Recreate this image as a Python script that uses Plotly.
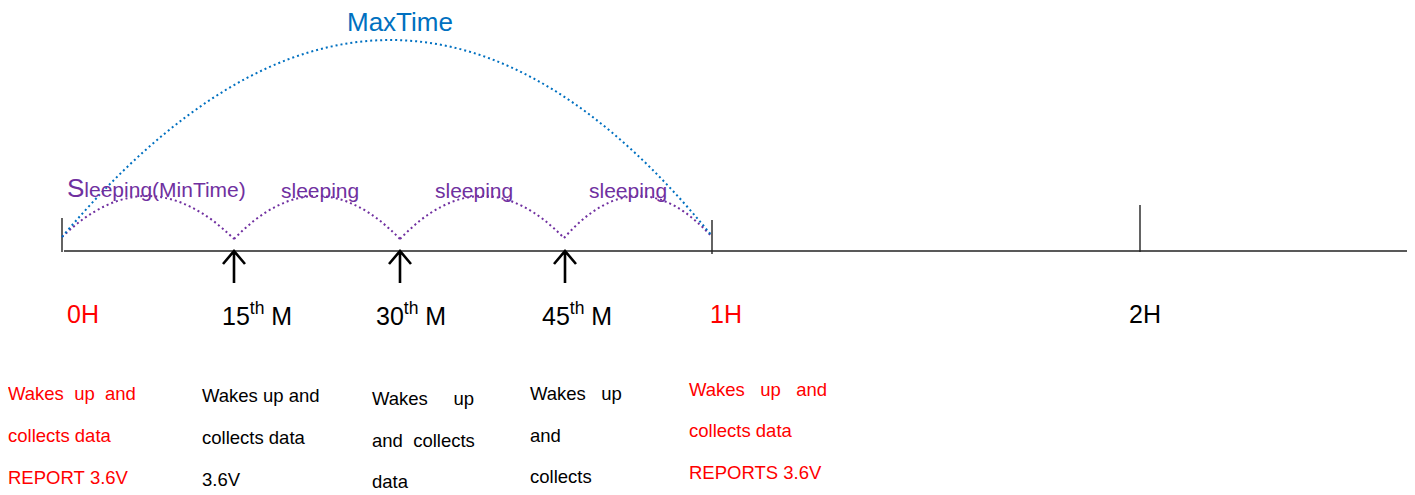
import plotly.graph_objects as go

W, H = 1415, 495
PAGE_OFFSET = 8  # browser default body margin

# ---------------- content ----------------
mark_labels = ["0H", "15<sup>th</sup> M", "30<sup>th</sup> M", "45<sup>th</sup> M", "1H", "2H"]
mark_is_report = [True, False, False, False, True, False]
sleep_labels = ["<span style='font-size:26px'>S</span>leeping(MinTime)", "sleeping", "sleeping", "sleeping"]
max_label = "MaxTime"
desc_lines = [
    ["Wakes  up  and", "collects data", "REPORT 3.6V"],
    ["Wakes up and", "collects data", "3.6V"],
    ["Wakes     up", "and  collects", "data"],
    ["Wakes   up", "and", "collects"],
    ["Wakes   up   and", "collects data", "REPORTS 3.6V"],
]
desc_is_report = [True, False, False, False, True]

# ---------------- layout positions (diagram pixel space) ----------------
line_y = 251
line_x0, line_x1 = 64, 1410
tick_x = [62, 712, 1140]
tick_top = [218, 220, 205]
tick_bot = [252, 254, 252]
arrow_x = [234, 400, 565]
arrow_bottom, arrow_tip = 283, 251
label_x = [82.5, 257, 411, 577, 726, 1145]
label_y = 314
arc_x = [62, 234, 400, 564, 712]
arc_y = [237, 239, 239, 238, 237]
arc_peak = 196
max_peak_x, max_peak_y = 390, 40
sleep_pos = [(65, 188, "left"), (320, 190, "center"), (474, 190, "center"), (628, 190, "center")]
desc_x = [8, 202, 372, 530, 689]
desc_y = [[393, 435, 477], [395.5, 437, 479.5], [398, 440, 481], [393.5, 435, 476.5], [389, 430, 472]]
TEXT_PAD_SHIFT = -2  # annotation box padding compensation

RED = "#FF0000"
PURPLE = "#7030A0"
BLUE = "#0070C0"
FONT = "Liberation Sans, Arial, sans-serif"

shapes = []
# main timeline
shapes.append(dict(type="line", x0=line_x0, x1=line_x1, y0=line_y, y1=line_y,
                   line=dict(color="#222222", width=1.6)))
for x, t, b in zip(tick_x, tick_top, tick_bot):
    shapes.append(dict(type="line", x0=x, x1=x, y0=t, y1=b, line=dict(color="#222222", width=1.4)))
# wake-up arrows
for x in arrow_x:
    path = (f"M {x} {arrow_bottom} L {x} {arrow_tip} "
            f"M {x-11} {arrow_tip+13} L {x} {arrow_tip} L {x+11} {arrow_tip+13}")
    shapes.append(dict(type="path", path=path, line=dict(color="#000000", width=2.6)))
# sleeping arcs (purple, dotted)
for i in range(len(arc_x) - 1):
    x0, x1 = arc_x[i], arc_x[i + 1]
    y0, y1 = arc_y[i], arc_y[i + 1]
    cx = (x0 + x1) / 2
    cy = 2 * arc_peak - (y0 + y1) / 2
    shapes.append(dict(type="path", path=f"M {x0} {y0} Q {cx} {cy} {x1} {y1}",
                       line=dict(color=PURPLE, width=2, dash="2px,3px")))
# MaxTime arc (blue, dotted)
x0, x1 = arc_x[0], arc_x[-1]
y0, y1 = arc_y[0], arc_y[-1] - 1
cx = 2 * max_peak_x - (x0 + x1) / 2
cy = 2 * max_peak_y - (y0 + y1) / 2
shapes.append(dict(type="path", path=f"M {x0} {y0} Q {cx} {cy} {x1} {y1}",
                   line=dict(color=BLUE, width=2, dash="2px,3px")))

annotations = []
annotations.append(dict(x=400, y=21.5, text=max_label, showarrow=False, xanchor="center", yanchor="middle",
                        font=dict(family=FONT, size=26, color=BLUE)))
for (x, y, anc), txt in zip(sleep_pos, sleep_labels):
    annotations.append(dict(x=x, y=y, text=txt, showarrow=False, xanchor=anc, yanchor="middle",
                            font=dict(family=FONT, size=21, color=PURPLE)))
for x, txt, rep in zip(label_x, mark_labels, mark_is_report):
    annotations.append(dict(x=x, y=label_y, text=txt, showarrow=False, xanchor="center", yanchor="middle",
                            font=dict(family=FONT, size=25, color=RED if rep else "#000000")))
for cx_, ys, lines, rep in zip(desc_x, desc_y, desc_lines, desc_is_report):
    for y, ln in zip(ys, lines):
        annotations.append(dict(x=cx_, y=y, xshift=TEXT_PAD_SHIFT, text=ln.replace(" ", "\u00a0"),
                                showarrow=False, xanchor="left", yanchor="middle",
                                font=dict(family=FONT, size=18.5, color=RED if rep else "#000000")))

fig = go.Figure()
fig.update_layout(
    width=W - PAGE_OFFSET, height=H - PAGE_OFFSET,
    margin=dict(l=0, r=0, t=0, b=0),
    paper_bgcolor="white", plot_bgcolor="white",
    xaxis=dict(range=[PAGE_OFFSET, W], visible=False, fixedrange=True),
    yaxis=dict(range=[H, PAGE_OFFSET], visible=False, fixedrange=True),
    shapes=shapes, annotations=annotations, showlegend=False,
)
fig.write_html("out.html", config={"displayModeBar": False})
